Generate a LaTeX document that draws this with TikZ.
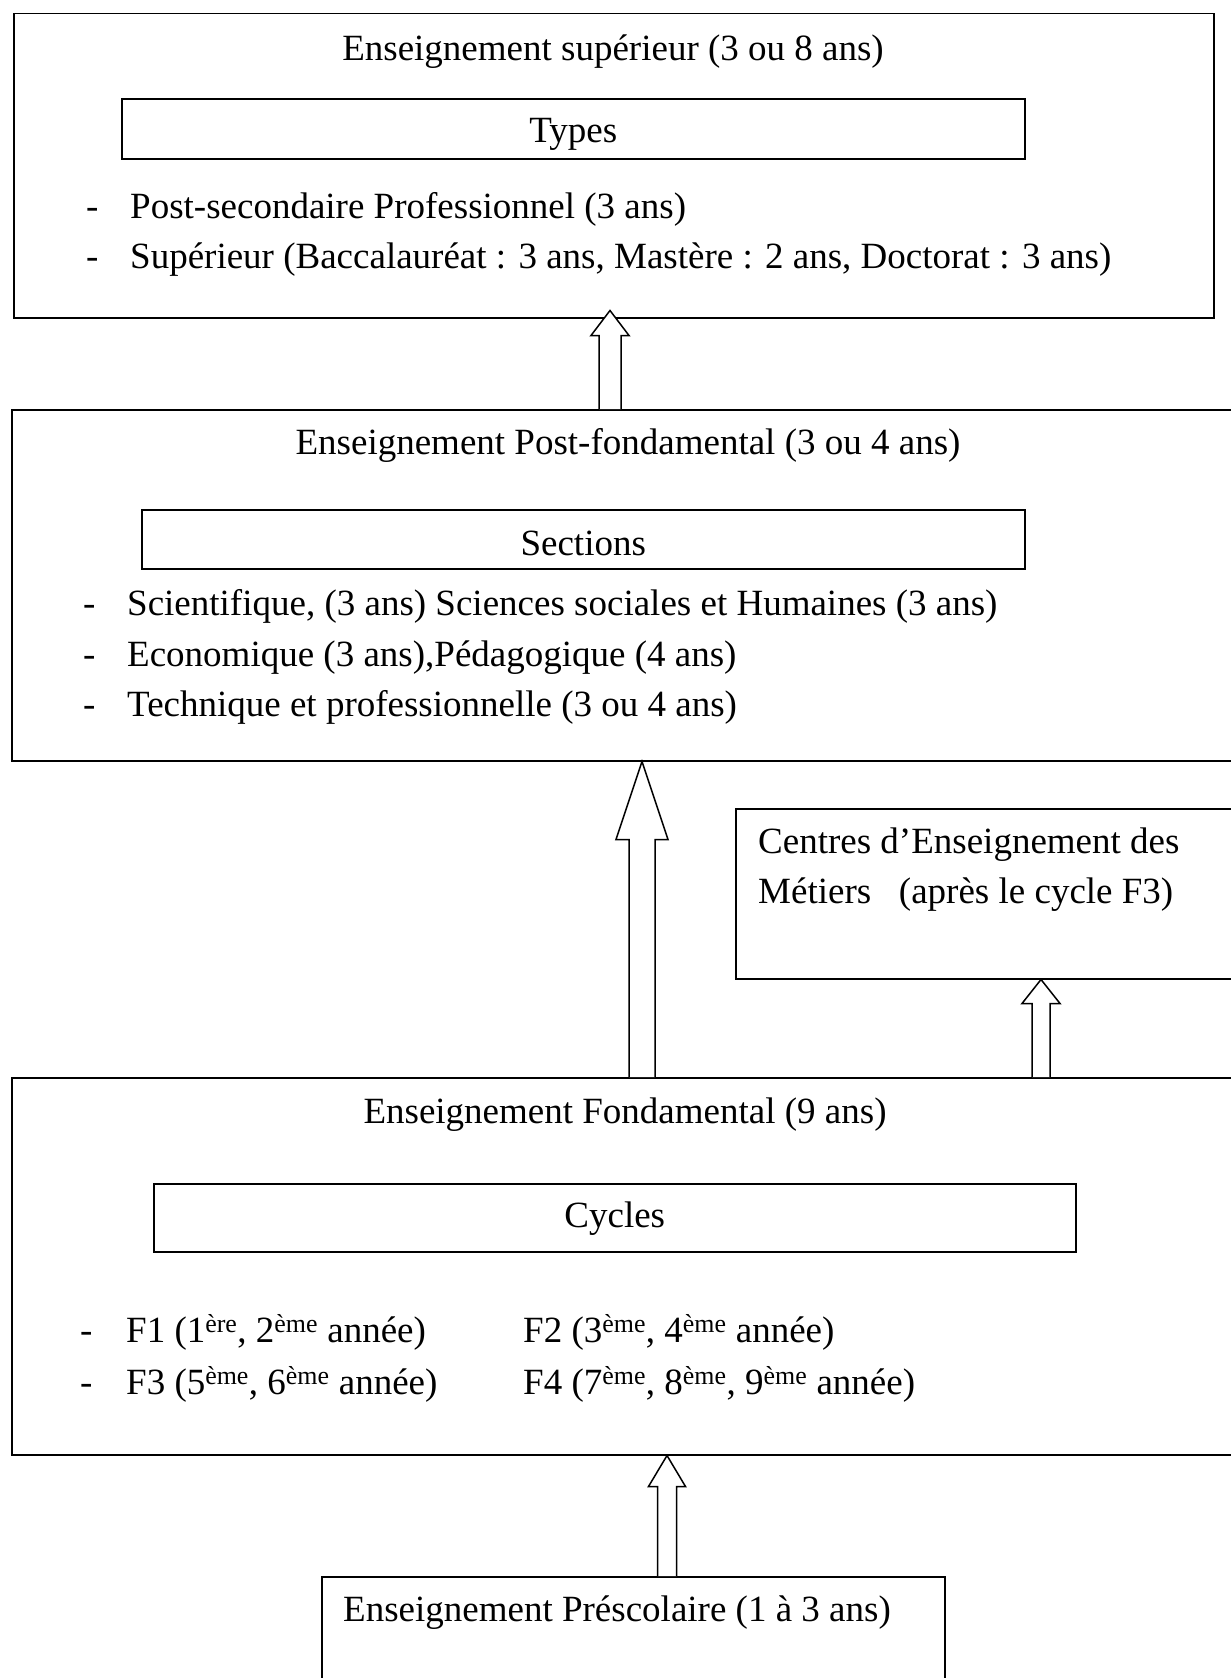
\documentclass[tikz,border=0pt]{standalone}
\usepackage{fontspec}
\setmainfont{Liberation Serif}
\usetikzlibrary{calc}

\tikzset{
  box/.style={draw,line width=1.5pt,inner sep=0pt,anchor=north west},
  title/.style={inner sep=0pt,anchor=base},
  item/.style={inner sep=0pt,anchor=base west},
  block/.style={draw,line width=1.5pt,fill=white,line join=miter},
}
% hollow up-arrow: [tip overshoot]{from}{to}{x}{shaft half}{head half}{head length}
\newcommand\blockarrow[7][0]{%
  \draw[block] let \p1=(#2.north -| #4,0), \p2=(#3.south -| #4,0) in
    (\x1-#5pt,\y1) -- (\x1-#5pt,\y2+#1pt-#7pt) -- (\x1-#6pt,\y2+#1pt-#7pt)
    -- (\x1,\y2+#1pt) -- (\x1+#6pt,\y2+#1pt-#7pt) -- (\x1+#5pt,\y2+#1pt-#7pt)
    -- (\x1+#5pt,\y1);
}

\begin{document}
\begin{tikzpicture}[x=1pt,y=-1pt,font=\fontsize{37}{44}\selectfont]
   \useasboundingbox (0,0) rectangle (1231,1678);
   % Enseignement superieur
   \node [box,minimum width=1200pt,minimum height=304pt] (sup) at (13,13) {};
   \node [title] (sup-title) at (613,60) {Enseignement supérieur (3 ou 8 ans)};
   \node [box,minimum width=903pt,minimum height=60pt,text height=30pt,text depth=2pt] (types) at (121,98) {Types};
   \foreach \y/\t [count=\i] in {218/{Post-secondaire Professionnel (3 ans)},
        268/{Supérieur (Baccalauréat : 3 ans, Mastère : 2 ans, Doctorat : 3 ans)}} {
      \node [item] (sup-dash-\i) at (86,\y) {-};
      \node [item] (sup-item-\i) at (130,\y) {\t};
   }
   % Enseignement post-fondamental
   \node [box,minimum width=1234pt,minimum height=351pt] (postfond) at (11,409) {};
   \node [title] (postfond-title) at (628,454) {Enseignement Post-fondamental (3 ou 4 ans)};
   \node [box,minimum width=883pt,minimum height=59pt,text height=33pt,text depth=0pt] (sections) at (141,509) {Sections};
   \foreach \y/\t [count=\i] in {615/{Scientifique, (3 ans) Sciences sociales et Humaines (3 ans)},
        666/{Economique (3 ans),Pédagogique (4 ans)},
        716/{Technique et professionnelle (3 ou 4 ans)}} {
      \node [item] (postfond-dash-\i) at (83,\y) {-};
      \node [item] (postfond-item-\i) at (127,\y) {\t};
   }
   % Centres d'enseignement des metiers
   \node [box,minimum width=510pt,minimum height=170pt] (cem) at (735,808) {};
   \node [item] (cem-1) at (758,853) {Centres d’Enseignement des};
   \node [item] (cem-2) at (758,903) {Métiers\ \ \ (après le cycle F3)};
   % Enseignement fondamental
   \node [box,minimum width=1228pt,minimum height=377pt] (fond) at (11,1077) {};
   \node [title] (fond-title) at (625,1123) {Enseignement Fondamental (9 ans)};
   \node [box,minimum width=922pt,minimum height=68pt,text height=24pt,text depth=4pt] (cycles) at (153,1183) {Cycles};
   \node [item] (fond-dash-1) at (80,1342) {-};
   \node [item] (f1) at (126,1342) {F1 (1\textsuperscript{ère}, 2\textsuperscript{ème} année)};
   \node [item] (f2) at (523,1342) {F2 (3\textsuperscript{ème}, 4\textsuperscript{ème} année)};
   \node [item] (fond-dash-2) at (80,1394) {-};
   \node [item] (f3) at (126,1394) {F3 (5\textsuperscript{ème}, 6\textsuperscript{ème} année)};
   \node [item] (f4) at (523,1394) {F4 (7\textsuperscript{ème}, 8\textsuperscript{ème}, 9\textsuperscript{ème} année)};
   % Enseignement prescolaire
   \node [box,minimum width=623pt,minimum height=124pt] (presco) at (321,1576) {};
   \node [item] (presco-title) at (343,1621) {Enseignement Préscolaire (1 à 3 ans)};
   % Arrows
   \blockarrow[8]{postfond}{sup}{610}{11}{19}{25}
   \blockarrow{fond}{postfond}{642}{13}{26}{78}
   \blockarrow{fond}{cem}{1041}{9}{19}{24}
   \blockarrow{presco}{fond}{667}{9.5}{18.5}{31}
\end{tikzpicture}
\end{document}
